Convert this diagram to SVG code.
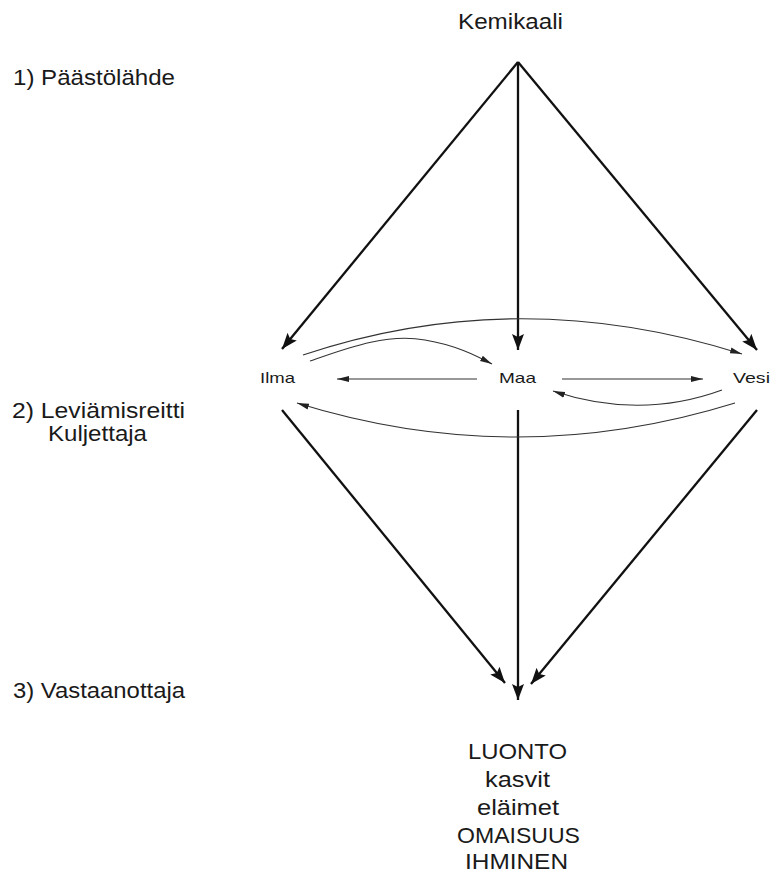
<svg xmlns="http://www.w3.org/2000/svg" width="771" height="874" viewBox="0 0 771 874">
<style>
text{font-family:"Liberation Sans",Arial,sans-serif;fill:#1a1a1a}
.big{font-size:22px}
.small{font-size:15px}
.thick{fill:none;stroke:#111;stroke-width:2.3;marker-end:url(#ah)}
.thin{fill:none;stroke:#333;stroke-width:1.1;marker-end:url(#as)}
</style>
<defs>
<marker id="ah" markerUnits="userSpaceOnUse" markerWidth="18" markerHeight="12" refX="16" refY="6" orient="auto">
<path d="M0,0 L16,6 L0,12 L3,6 Z" fill="#111"/>
</marker>
<marker id="as" markerUnits="userSpaceOnUse" markerWidth="14" markerHeight="8" refX="12" refY="4" orient="auto">
<path d="M0,1 L12,4 L0,7 Z" fill="#222"/>
</marker>
</defs>
<rect width="771" height="874" fill="#fff"/>
<g id="labels">
<text class="big" x="13" y="85" textLength="162" lengthAdjust="spacingAndGlyphs">1) Päästölähde</text>
<text class="big" x="12" y="418" textLength="173" lengthAdjust="spacingAndGlyphs">2) Leviämisreitti</text>
<text class="big" x="48" y="441" textLength="99" lengthAdjust="spacingAndGlyphs">Kuljettaja</text>
<text class="big" x="13" y="698" textLength="172" lengthAdjust="spacingAndGlyphs">3) Vastaanottaja</text>
</g>
<g id="kemikaali"><text class="big" x="458" y="29" textLength="105" lengthAdjust="spacingAndGlyphs">Kemikaali</text></g>
<g id="ilma"><text class="small" x="260" y="383" textLength="35" lengthAdjust="spacingAndGlyphs">Ilma</text></g>
<g id="maa"><text class="small" x="499" y="383" textLength="37" lengthAdjust="spacingAndGlyphs">Maa</text></g>
<g id="vesi"><text class="small" x="733" y="383" textLength="37" lengthAdjust="spacingAndGlyphs">Vesi</text></g>
<g id="vastaanottaja">
<text class="big" x="468" y="759" textLength="99" lengthAdjust="spacingAndGlyphs">LUONTO</text>
<text class="big" x="485" y="787" textLength="65" lengthAdjust="spacingAndGlyphs">kasvit</text>
<text class="big" x="477" y="815" textLength="82" lengthAdjust="spacingAndGlyphs">eläimet</text>
<text class="big" x="457" y="843" textLength="123" lengthAdjust="spacingAndGlyphs">OMAISUUS</text>
<text class="big" x="465" y="869" textLength="103" lengthAdjust="spacingAndGlyphs">IHMINEN</text>
</g>
<g id="connectors">
<path class="thick" d="M518,62 L282,349"/>
<path class="thick" d="M518,62 L518,350"/>
<path class="thick" d="M518,62 L757,350"/>
<path class="thick" d="M282,410 L505,683"/>
<path class="thick" d="M518,410 L518,700"/>
<path class="thick" d="M757,410 L531,684"/>
<path class="thin" d="M477,379 L337,379"/>
<path class="thin" d="M562,379 L703,379"/>
<path class="thin" d="M303,355 Q518,283 742,354"/>
<path class="thin" d="M310,361 C345,349 385,333 425,340 C455,345 475,355 492,364"/>
<path class="thin" d="M722,390 Q640,420 553,391"/>
<path class="thin" d="M735,403 Q516,471 297,403"/>
</g>
</svg>
